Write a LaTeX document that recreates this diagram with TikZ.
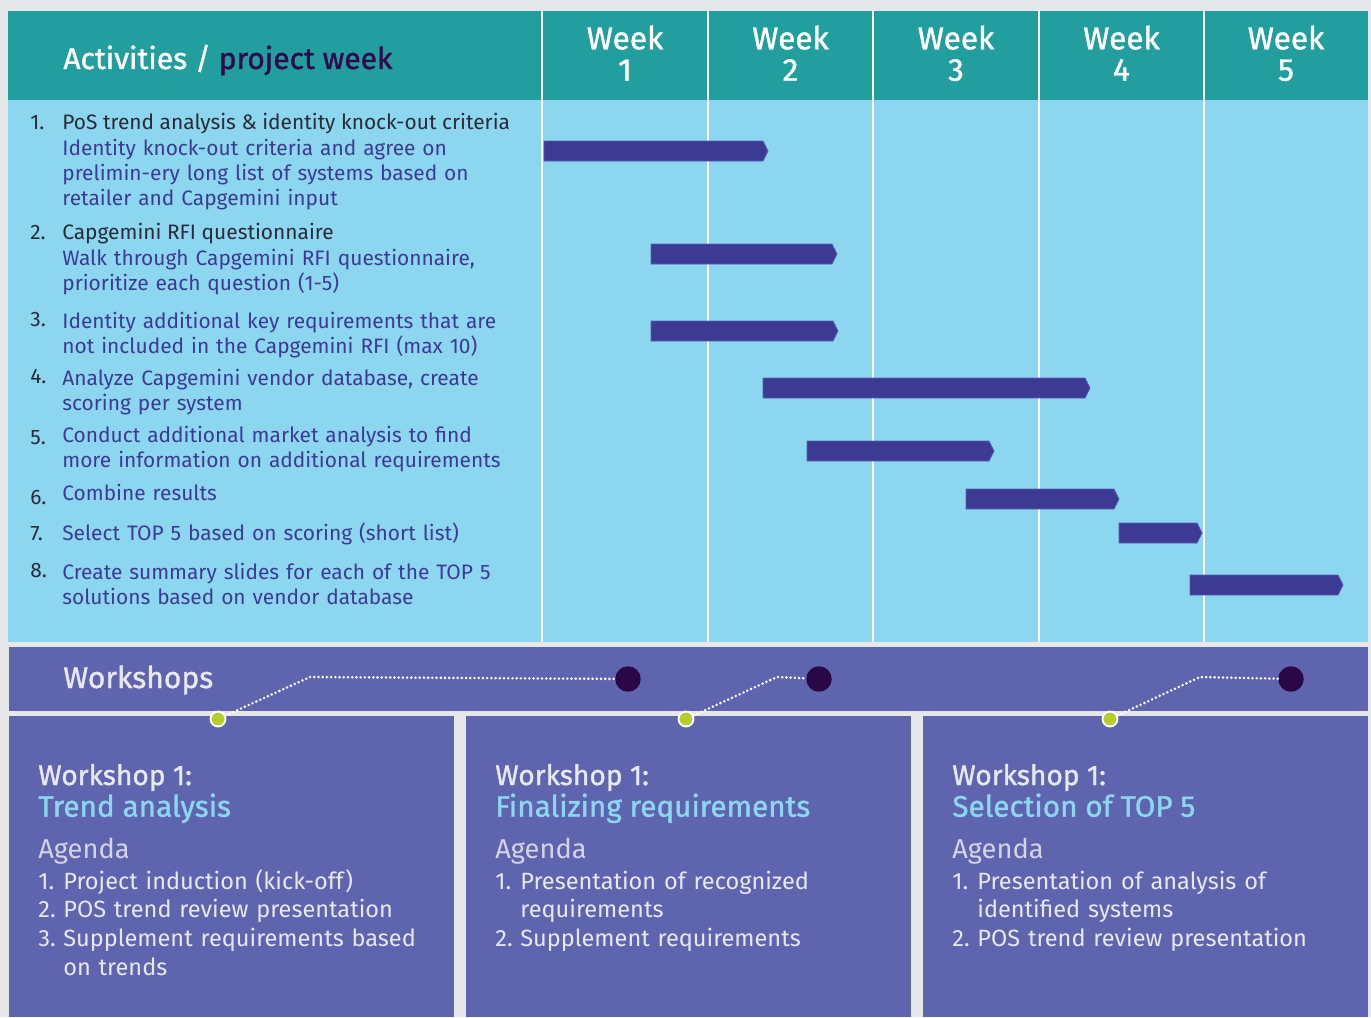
\documentclass[tikz,border=0pt]{standalone}
\usepackage{fontspec}
\setmainfont{Fira Sans}
\newfontfamily\medfont{Fira Sans}[FakeBold=1.2]
\usetikzlibrary{positioning}
\definecolor{pageGray}{HTML}{E6E7E9}
\definecolor{headTeal}{HTML}{239E9E}
\definecolor{bodyBlue}{HTML}{8DD6EF}
\definecolor{barInk}{HTML}{3D3A94}
\definecolor{barEdge}{HTML}{5B5DB5}
\definecolor{darkPurple}{HTML}{2E0A4F}
\definecolor{wsPurple}{HTML}{5F64AE}
\definecolor{dotDark}{HTML}{2A0848}
\definecolor{dotGreen}{HTML}{B4CE2C}
\definecolor{wsText}{HTML}{E8E8F0}
\definecolor{numInk}{HTML}{2A2A38}

\begin{document}
\begin{tikzpicture}[x=0.02cm,y=-0.02cm,
    every node/.style={inner sep=0pt},
    headtxt/.style={anchor=base west,font=\medfont\fontsize{17.1}{18}\selectfont,color=white},
    weektxt/.style={anchor=base,font=\medfont\fontsize{18}{18}\selectfont,color=white},
    tasknum/.style={anchor=base west,font=\fontsize{11.9}{14.46}\selectfont,color=numInk},
    tasktitle/.style={anchor=base west,font=\fontsize{11.9}{14.46}\selectfont,color=numInk},
    task/.style={anchor=base west,font=\fontsize{11.9}{14.46}\selectfont,color=barInk,
        text width=9.5cm,align=left},
    bar/.style={fill=barInk,draw=barEdge,line width=0.4pt},
    sepline/.style={white,line width=1.3pt},
    wslabel/.style={anchor=base west,font=\medfont\fontsize{16}{18}\selectfont,color=wsText},
    wstitle/.style={anchor=base west,font=\medfont\fontsize{16.9}{18}\selectfont,color=bodyBlue},
    agenda/.style={anchor=base west,font=\fontsize{15.5}{18}\selectfont,color=wsText!85!wsPurple},
    agtxt/.style={anchor=base west,font=\fontsize{13.4}{16.3}\selectfont,color=wsText,
        text width=8cm,align=left},
    bigdot/.style={circle,fill=dotDark,minimum size=14.5pt},
    gdot/.style={circle,fill=dotGreen,draw=white,line width=1.1pt,minimum size=8.5pt},
    wsline/.style={white,line width=1.6pt,line cap=round,dash pattern=on 0pt off 2.4pt}]

    \useasboundingbox (0,0) rectangle (1371,1017);
    \fill[pageGray] (0,0) rectangle (1371,1017);

    % chart
    \fill[headTeal] (8,11) rectangle (1368,100);
    \fill[bodyBlue] (8,100) rectangle (1368,642);
    \foreach \x in {542,708,873,1039,1204}
        \draw[sepline] (\x,11) -- (\x,642);

    \node[headtxt] (title) at (63,69) {Activities / \textcolor{darkPurple}{project week}};
    \foreach \n/\cx in {1/625,2/790.5,3/956,4/1121.5,5/1286} {
        \node[weektxt] (w\n) at (\cx,49.3) {Week};
        \node[weektxt] (wn\n) at (\cx,80.7) {\n};
    }

    \node[tasknum] (n1) at (30,129) {1.};
    \node[tasktitle] (t1) at (62,129) {PoS trend analysis \& identity knock-out criteria};
    \node[task] (t1d) at (62,155) {Identity knock-out criteria and agree on\\prelimin-ery long list of systems based on\\retailer and Capgemini input};
    \node[tasknum] (n2) at (30,239) {2.};
    \node[tasktitle] (t2) at (62,239) {Capgemini RFI questionnaire};
    \node[task] (t2d) at (62,265) {Walk through Capgemini RFI questionnaire,\\prioritize each question (1-5)};
    \node[tasknum] (n3) at (30,326) {3.};
    \node[task] (t3) at (62,328) {Identity additional key requirements that are\\not included in the Capgemini RFI (max 10)};
    \node[tasknum] (n4) at (30,383) {4.};
    \node[task] (t4) at (62,385) {Analyze Capgemini vendor database, create\\scoring per system};
    \node[tasknum] (n5) at (30,444) {5.};
    \node[task] (t5) at (62,442) {Conduct additional market analysis to find\\more information on additional requirements};
    \node[tasknum] (n6) at (30,504) {6.};
    \node[task] (t6) at (62,500) {Combine results};
    \node[tasknum] (n7) at (30,540) {7.};
    \node[task] (t7) at (62,540) {Select TOP 5 based on scoring (short list)};
    \node[tasknum] (n8) at (30,577) {8.};
    \node[task] (t8) at (62,579) {Create summary slides for each of the TOP 5\\solutions based on vendor database};

    \foreach \a/\b/\t in {544/768/141,651/837/244,651/838/321,763/1090/378,
                          807/994/441,966/1119/489,1119/1202/523,1190/1343/575}
        \draw[bar] (\a,\t) -- (\b-5,\t) -- (\b,\t+10) -- (\b-5,\t+20) -- (\a,\t+20) -- cycle;

    % workshops
    \fill[wsPurple] (9,647) rectangle (1368,711);
    \foreach \x in {9,466,923}
        \fill[wsPurple] (\x,716) rectangle ++(445,301);
    \node[headtxt,color=wsText] (ws) at (63,688) {Workshops};

    \node[gdot] (g1) at (218,719) {};
    \node[gdot] (g2) at (686,719) {};
    \node[gdot] (g3) at (1110,719) {};
    \node[bigdot] (d1) at (628,679) {};
    \node[bigdot] (d2) at (819,679) {};
    \node[bigdot] (d3) at (1291,679) {};
    \coordinate (k1) at (310,677);
    \coordinate (k2) at (777,677);
    \coordinate (k3) at (1200,677);
    \foreach \i in {1,2,3}
        \draw[wsline] (g\i) -- (k\i) -- (d\i);

    \foreach \i/\x/\name in {1/38/Trend analysis,2/495/Finalizing requirements,3/952/Selection of TOP 5} {
        \node[wslabel] (wl\i) at (\x,785) {Workshop 1:};
        \node[wstitle] (wt\i) at (\x,816.7) {\name};
        \node[agenda] (ag\i) at (\x,858.3) {Agenda};
        \node[agtxt] (a\i n1) at (\x,889) {1.};
    }
    \node[agtxt] (a1t1) at (63,889) {Project induction (kick-off)};
    \node[agtxt] (a1n2) at (38,917.7) {2.};
    \node[agtxt] (a1t2) at (63,917.7) {POS trend review presentation};
    \node[agtxt] (a1n3) at (38,946.7) {3.};
    \node[agtxt] (a1t3) at (63,946.7) {Supplement requirements based\\on trends};
    \node[agtxt] (a2t1) at (520,889) {Presentation of recognized\\requirements};
    \node[agtxt] (a2n2) at (495,946.7) {2.};
    \node[agtxt] (a2t2) at (520,946.7) {Supplement requirements};
    \node[agtxt] (a3t1) at (977,889) {Presentation of analysis of\\identified systems};
    \node[agtxt] (a3n2) at (952,946.7) {2.};
    \node[agtxt] (a3t2) at (977,946.7) {POS trend review presentation};

\end{tikzpicture}
\end{document}
